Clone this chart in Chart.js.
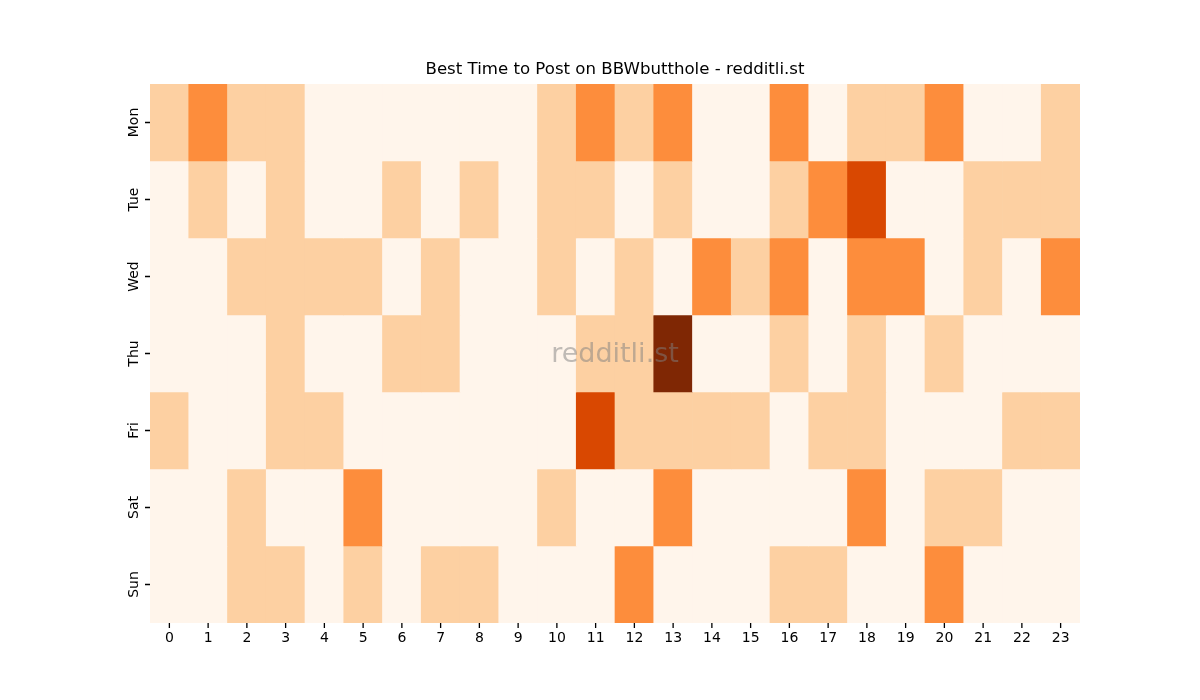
<!DOCTYPE html>
<html>
<head>
<meta charset="utf-8">
<script src="https://cdn.jsdelivr.net/npm/chart.js@4/dist/chart.umd.min.js"></script>
<style>
  html, body { margin: 0; padding: 0; background: #fff; }
  canvas { display: block; }
</style>
</head>
<body>
<canvas id="heat" width="1200" height="700"></canvas>
<script>
const hours = ['0','1','2','3','4','5','6','7','8','9','10','11','12','13','14','15','16','17','18','19','20','21','22','23'];
const days = ['Mon', 'Tue', 'Wed', 'Thu', 'Fri', 'Sat', 'Sun'];

// posting activity level per hour (0 = none .. 4 = most)
const mon = [1,2,1,1,0,0,0,0,0,0,1,2,1,2,0,0,2,0,1,1,2,0,0,1];
const tue = [0,1,0,1,0,0,1,0,1,0,1,1,0,1,0,0,1,2,3,0,0,1,1,1];
const wed = [0,0,1,1,1,1,0,1,0,0,1,0,1,0,2,1,2,0,2,2,0,1,0,2];
const thu = [0,0,0,1,0,0,1,1,0,0,0,1,1,4,0,0,1,0,1,0,1,0,0,0];
const fri = [1,0,0,1,1,0,0,0,0,0,0,3,1,1,1,1,0,1,1,0,0,0,1,1];
const sat = [0,0,1,0,0,2,0,0,0,0,1,0,0,2,0,0,0,0,2,0,1,1,0,0];
const sun = [0,0,1,1,0,1,0,1,1,0,0,0,2,0,0,0,1,1,0,0,2,0,0,0];

const levelColors = ['#fff5eb', '#fdd0a2', '#fd8d3c', '#d94801', '#7f2704'];

const rows = [mon, tue, wed, thu, fri, sat, sun];

const datasets = rows.map((vals, d) => ({
    label: days[d],
    data: vals.map(() => [d, d + 1]),
    backgroundColor: vals.map(v => levelColors[v]),
    borderWidth: 0,
    borderSkipped: false,
    barPercentage: 1,
    categoryPercentage: 1,
    grouped: false
}));

const watermark = {
    id: 'watermark',
    afterDatasetsDraw(chart) {
        const a = chart.chartArea;
        const ctx = chart.ctx;
        ctx.save();
        ctx.font = '27px "DejaVu Sans"';
        ctx.fillStyle = 'rgba(128,128,128,0.5)';
        ctx.textAlign = 'center';
        ctx.textBaseline = 'middle';
        ctx.fillText('redditli.st', (a.left + a.right) / 2, 355);
        ctx.restore();
    }
};

// short tick marks, placed from the scales' own tick pixels
const tickMarks = {
    id: 'tickMarks',
    afterDraw(chart) {
        const a = chart.chartArea;
        const ctx = chart.ctx;
        const xs = chart.scales.x;
        const ys = chart.scales.y;
        ctx.save();
        ctx.strokeStyle = '#000';
        ctx.lineWidth = 1.3;
        ctx.beginPath();
        xs.ticks.forEach((t, i) => {
            const px = xs.getPixelForTick(i);
            ctx.moveTo(px, a.bottom);
            ctx.lineTo(px, a.bottom + 5);
        });
        ys.ticks.forEach((t, i) => {
            const py = ys.getPixelForTick(i);
            ctx.moveTo(a.left - 5, py);
            ctx.lineTo(a.left, py);
        });
        ctx.stroke();
        ctx.restore();
    }
};

const tickFont = { family: 'DejaVu Sans', size: 14 };

new Chart(document.getElementById('heat'), {
    type: 'bar',
    data: { labels: hours, datasets: datasets },
    plugins: [watermark, tickMarks],
    options: {
        responsive: false,
        animation: false,
        devicePixelRatio: 1,
        layout: { padding: { top: 60, right: 120, left: 0, bottom: 0 } },
        plugins: {
            legend: { display: false },
            tooltip: { enabled: false },
            title: {
                display: true,
                fullSize: false,
                text: 'Best Time to Post on BBWbutthole - redditli.st',
                color: '#000',
                font: { family: 'DejaVu Sans', size: 16.6, weight: 'normal', lineHeight: 1.2 },
                padding: { top: 0, bottom: 4.08 }
            }
        },
        scales: {
            x: {
                type: 'category',
                grid: { offset: false, drawOnChartArea: false, drawTicks: false },
                border: { display: false },
                ticks: { color: '#000', font: tickFont, padding: 7, maxRotation: 0, autoSkip: false },
                afterFit(scale) { scale.height = 77; }
            },
            y: {
                type: 'linear',
                min: 0,
                max: 7,
                reverse: true,
                grid: { drawOnChartArea: false, drawTicks: false },
                border: { display: false },
                afterBuildTicks(scale) {
                    scale.ticks = days.map((d, i) => ({ value: i + 0.5 }));
                },
                ticks: {
                    color: '#000',
                    font: tickFont,
                    minRotation: 90,
                    maxRotation: 90,
                    crossAlign: 'center',
                    padding: 0,
                    callback: (v, i) => days[i]
                },
                afterFit(scale) { scale.width = 150; }
            }
        }
    }
});
</script>
</body>
</html>
